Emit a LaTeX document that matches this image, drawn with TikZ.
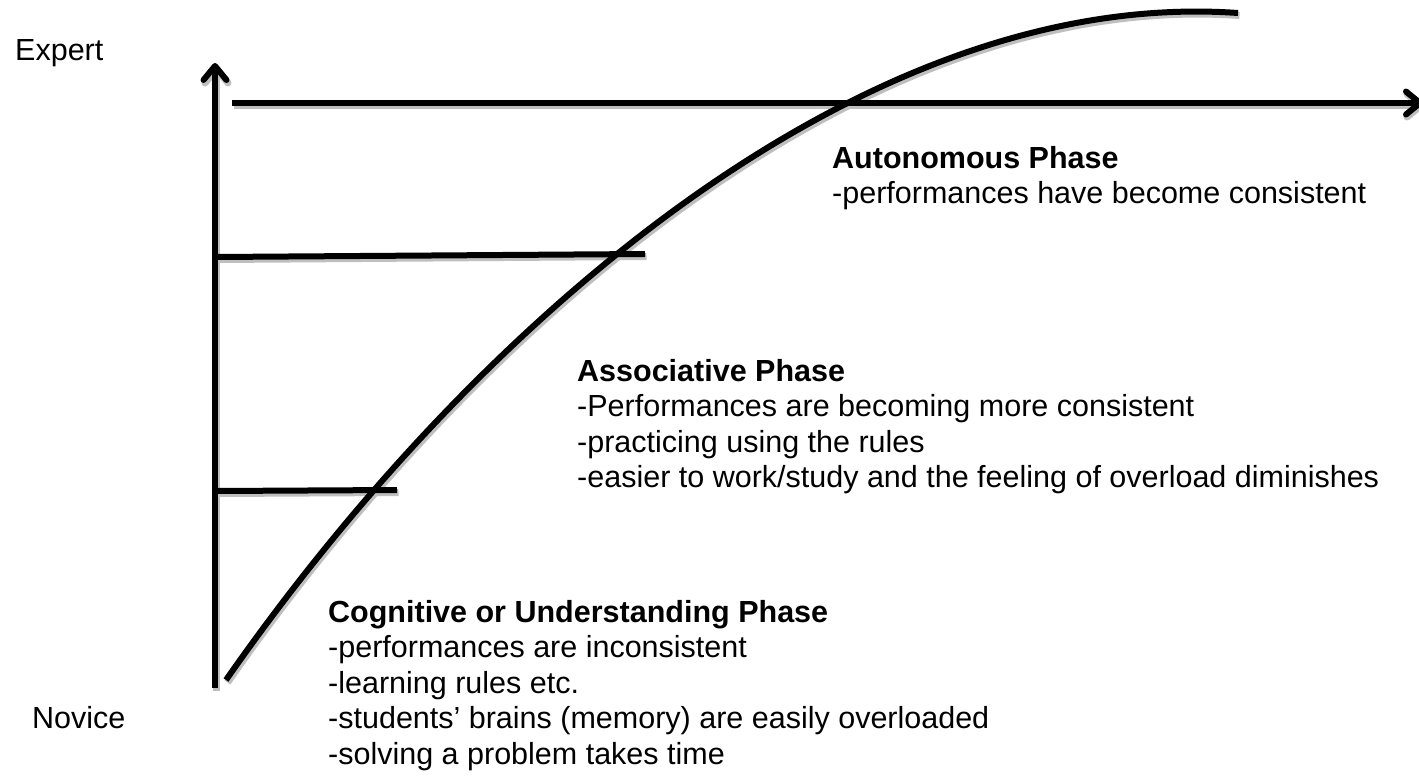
\documentclass[tikz,border=0pt]{standalone}
\usepackage{fontspec}
\setmainfont{Liberation Sans}
\usetikzlibrary{arrows.meta}
\begin{document}
\begin{tikzpicture}[x=1pt,y=-1pt,
  ink/.style={draw=black, line width=6pt},
  shade/.style={draw=black!25, line width=7pt, transform canvas={shift={(1.5,2.5)}}},
  axistip/.style={-{Straight Barb[length=14pt, width=23pt, round]}},
  txt/.style={inner sep=0pt, anchor=base west, font=\fontsize{30.5}{35}\selectfont},
  phasehead/.style={txt, font=\fontsize{30.5}{35}\selectfont\bfseries}]
\useasboundingbox (0,0) rectangle (1419,776);
\fill[white] (0,0) rectangle (1419,776);

% axis end points, level markers and curve ends
\coordinate (yaxisBottom) at (215,688);
\coordinate (yaxisTop)    at (215,63);
\coordinate (xaxisLeft)   at (232,103);
\coordinate (xaxisRight)  at (1423,103);
\coordinate (midLeft)     at (217,257);
\coordinate (midRight)    at (645,254);
\coordinate (lowLeft)     at (217,491);
\coordinate (lowRight)    at (397,490);
\coordinate (curveStart)  at (226,680);
\coordinate (curveEnd)    at (1238,13);

% shadow first, then the black strokes
\foreach \s in {shade, ink} {
  \draw[\s, axistip] (yaxisBottom) -- (yaxisTop);
  \draw[\s, axistip] (xaxisLeft) -- (xaxisRight);
  \draw[\s] (midLeft) -- (midRight);
  \draw[\s] (lowLeft) -- (lowRight);
  % learning curve
  \draw[\s] (curveStart) .. controls (470,330) and (858,-13.6) .. (curveEnd);
}

% axis labels
\node[txt] (expert) at (15,60) {Expert};
\node[txt] (novice) at (32,728) {Novice};

% autonomous phase
\node[phasehead] (autoTitle) at (832,168) {Autonomous Phase};
\node[txt] (auto1) at (832,203.5) {-performances have become consistent};

% associative phase
\node[phasehead] (assocTitle) at (577,381) {Associative Phase};
\node[txt] (assoc1) at (577,416.5) {-Performances are becoming more consistent};
\node[txt] (assoc2) at (577,452) {-practicing using the rules};
\node[txt] (assoc3) at (577,487.5) {-easier to work/study and the feeling of overload diminishes};

% cognitive phase
\node[phasehead] (cogTitle) at (328,622) {Cognitive or Understanding Phase};
\node[txt] (cog1) at (328,657.5) {-performances are inconsistent};
\node[txt] (cog2) at (328,693) {-learning rules etc.};
\node[txt] (cog3) at (328,728.5) {-students’ brains (memory) are easily overloaded};
\node[txt] (cog4) at (328,764) {-solving a problem takes time};
\end{tikzpicture}
\end{document}
